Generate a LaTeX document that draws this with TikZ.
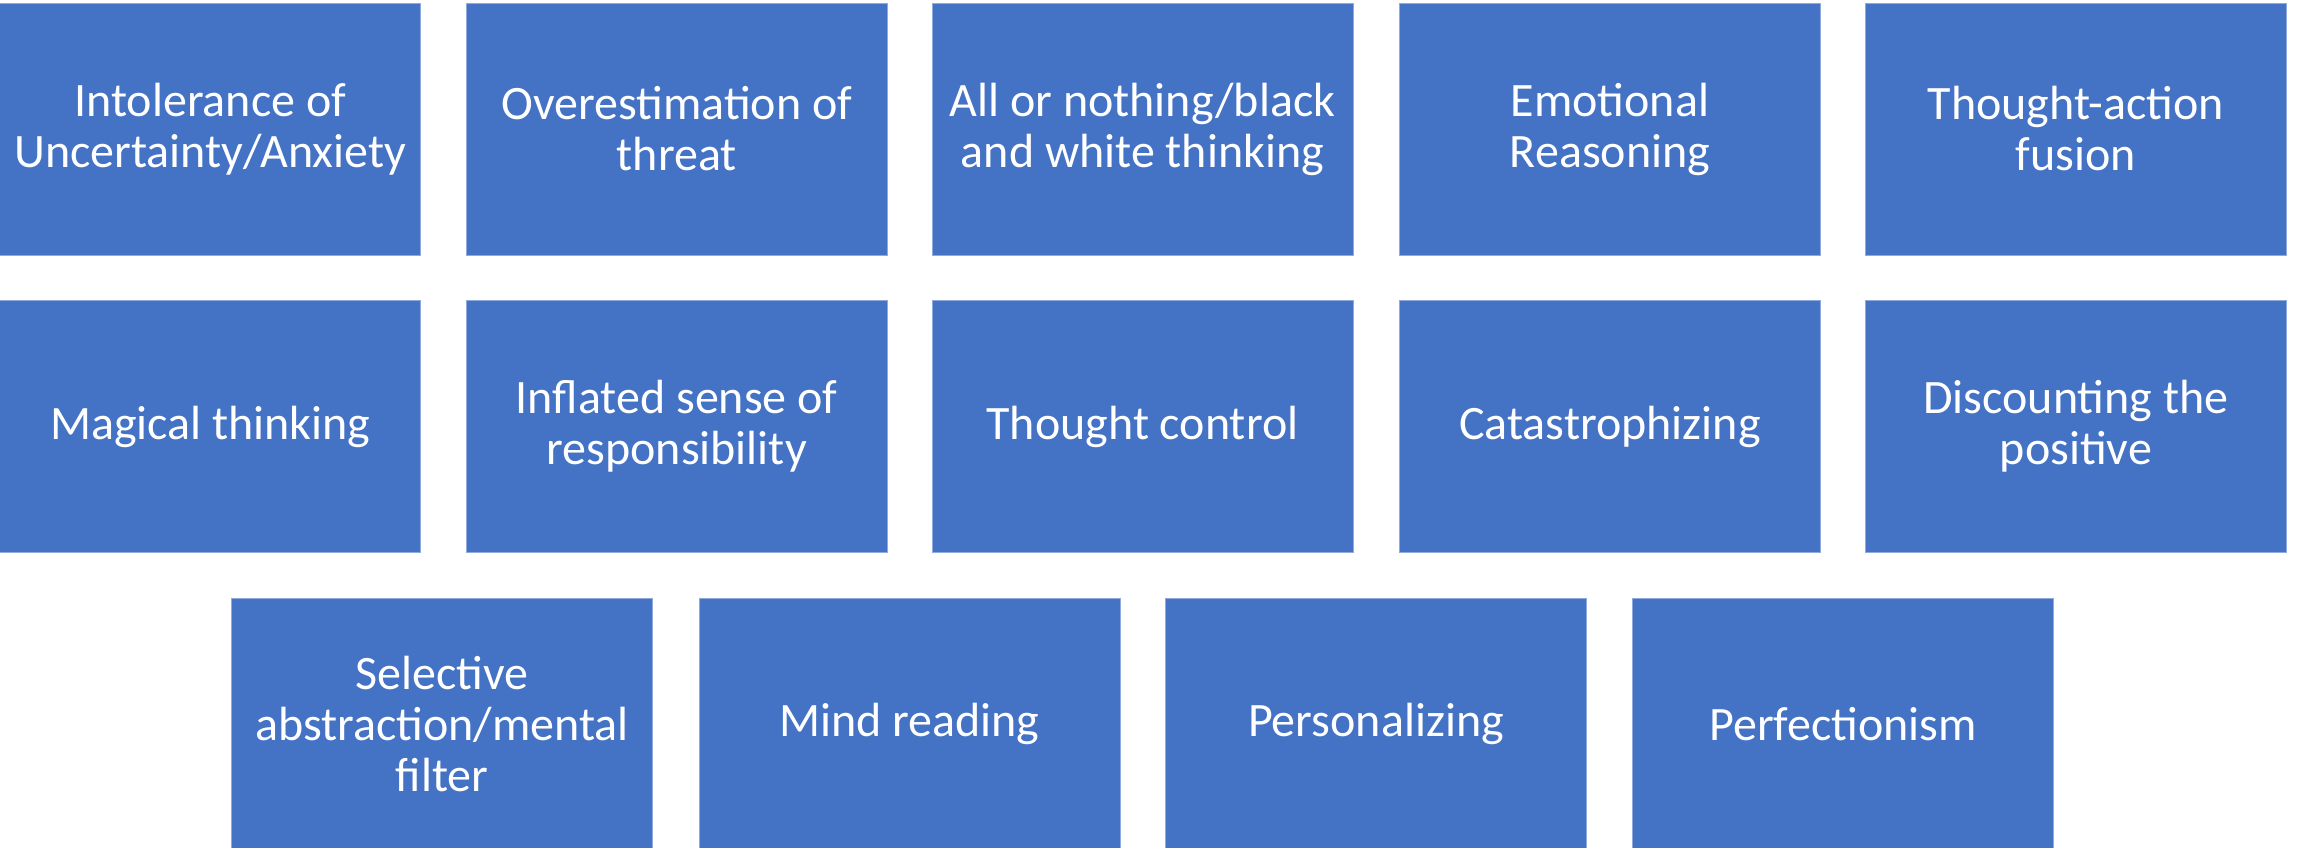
\documentclass[tikz,border=0pt]{standalone}
\usepackage{fontspec}
\setmainfont{Carlito}
\definecolor{boxblue}{HTML}{4472C4}
\definecolor{edgeblue}{HTML}{8FAADC}
\begin{document}
\begin{tikzpicture}[x=1pt,y=-1pt,
  cell/.style={rectangle, fill=boxblue, draw=edgeblue, line width=0.8pt,
    minimum width=421pt, minimum height=252pt, inner sep=0pt,
    text=white, align=center, font=\fontsize{48}{51}\selectfont}]
\useasboundingbox (0,0) rectangle (2298,847);
% row 1
\node[cell] (a1) at (210.3,129) {Intolerance of\\Uncertainty/Anxiety};
\node[cell] (a2) at (676.7,129) {Overestimation of\\threat};
\node[cell] (a3) at (1142.5,129) {All or nothing/black\\and white thinking};
\node[cell] (a4) at (1610,129) {Emotional\\Reasoning};
\node[cell] (a5) at (2076,129) {Thought-action\\fusion};
% row 2
\node[cell] (b1) at (210.3,426.5) {Magical thinking};
\node[cell] (b2) at (676.7,426.5) {Inflated sense of\\responsibility};
\node[cell] (b3) at (1142.5,426.5) {Thought control};
\node[cell] (b4) at (1610,426.5) {Catastrophizing};
\node[cell] (b5) at (2076,426.5) {Discounting the\\positive};
% row 3
\node[cell] (c1) at (442,724) {Selective\\abstraction/mental\\filter};
\node[cell] (c2) at (909.4,724) {Mind reading};
\node[cell] (c3) at (1376,724) {Personalizing};
\node[cell] (c4) at (1843,724) {Perfectionism};
\end{tikzpicture}
\end{document}
